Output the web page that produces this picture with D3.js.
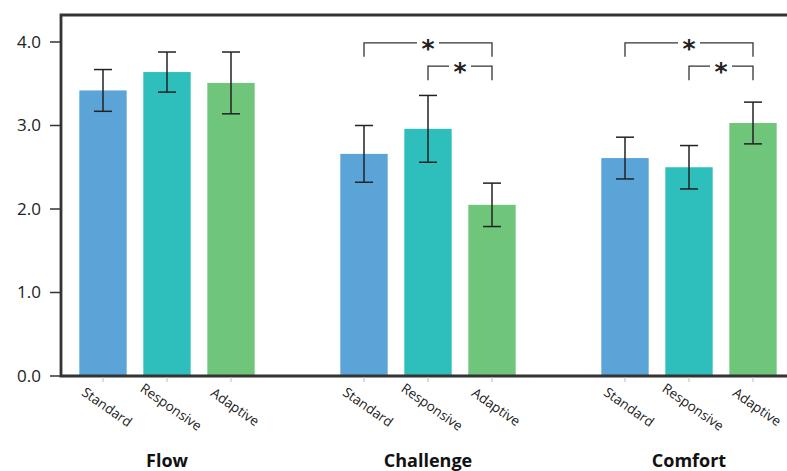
<!DOCTYPE html>
<html>
<head>
<meta charset="utf-8">
<script src="https://cdn.jsdelivr.net/npm/d3@7"></script>
<style>
  body { margin: 0; background: #fff; }
  svg { display: block; }
  .tick-label { font-family: "Open Sans", sans-serif; font-size: 17px; fill: #222; }
  .cond-label { font-family: "Open Sans", sans-serif; font-size: 13.5px; fill: #222; }
  .group-label { font-family: "Open Sans", sans-serif; font-size: 18px; font-weight: bold; fill: #111; }
  .star { font-family: "DejaVu Sans", sans-serif; font-size: 25px; font-weight: bold; fill: #222; }
</style>
</head>
<body>
<div id="chart"></div>
<script>
var width = 787,
    height = 471;

// groups and conditions
var groups = ["Flow", "Challenge", "Comfort"];
var conditions = ["Standard", "Responsive", "Adaptive"];
var colors = ["#5ba4d8", "#2ebfbd", "#6fc57a"];

// mean per group, in condition order
var flowMeans = [3.42, 3.64, 3.51];
var challengeMeans = [2.66, 2.96, 2.05];
var comfortMeans = [2.61, 2.50, 3.03];

// error bar half-widths
var flowErr = [0.25, 0.24, 0.37];
var challengeErr = [0.34, 0.40, 0.26];
var comfortErr = [0.25, 0.26, 0.25];

var yTicks = [0, 1, 2, 3, 4];

// significance brackets: group, from, to, level (0 = upper)
var sigGroups = ["Challenge", "Challenge", "Comfort", "Comfort"];
var sigFrom = ["Standard", "Responsive", "Standard", "Responsive"];
var sigTo = ["Adaptive", "Adaptive", "Adaptive", "Adaptive"];
var sigLevel = [0, 1, 0, 1];

var means = [flowMeans, challengeMeans, comfortMeans],
    errs = [flowErr, challengeErr, comfortErr];

var rows = [];
groups.forEach(function(g, gi) {
  conditions.forEach(function(c, ci) {
    rows.push({group: g, cond: c, value: means[gi][ci], err: errs[gi][ci], color: colors[ci]});
  });
});

var frame = {left: 61, top: 15, bottom: 376, right: width};

var y = d3.scaleLinear()
    .domain([0, 4])
    .range([376, 42]);

var x0 = d3.scalePoint()
    .domain(groups)
    .range([167, 689]);

var x1 = d3.scaleBand()
    .domain(conditions)
    .range([-96, 96])
    .paddingInner(0.26)
    .paddingOuter(0.13);

function cx(g, c) { return x0(g) + x1(c) + x1.bandwidth() / 2; }

var svg = d3.select("#chart").append("svg")
    .attr("width", width)
    .attr("height", height);

// bars
svg.append("g").selectAll("rect")
    .data(rows)
  .enter().append("rect")
    .attr("x", function(d) { return x0(d.group) + x1(d.cond); })
    .attr("y", function(d) { return y(d.value); })
    .attr("width", x1.bandwidth())
    .attr("height", function(d) { return y(0) - y(d.value); })
    .attr("fill", function(d) { return d.color; });

// error bars
var eb = svg.append("g")
    .attr("stroke", "#222")
    .attr("stroke-width", 1.5)
  .selectAll("g")
    .data(rows)
  .enter().append("g");

eb.append("line")
    .attr("x1", function(d) { return cx(d.group, d.cond); })
    .attr("x2", function(d) { return cx(d.group, d.cond); })
    .attr("y1", function(d) { return y(d.value + d.err); })
    .attr("y2", function(d) { return y(d.value - d.err); });

[1, -1].forEach(function(s) {
  eb.append("line")
      .attr("x1", function(d) { return cx(d.group, d.cond) - 9; })
      .attr("x2", function(d) { return cx(d.group, d.cond) + 9; })
      .attr("y1", function(d) { return y(d.value + s * d.err); })
      .attr("y2", function(d) { return y(d.value + s * d.err); });
});

// frame: left axis, top border, bottom axis
svg.append("path")
    .attr("d", "M" + frame.right + "," + frame.top + "H" + frame.left + "V" + frame.bottom + "H" + frame.right)
    .attr("fill", "none")
    .attr("stroke", "#333")
    .attr("stroke-width", 2.8);

// y axis ticks
var yAxis = svg.append("g");
yAxis.selectAll("line")
    .data(yTicks)
  .enter().append("line")
    .attr("x1", 50).attr("x2", frame.left)
    .attr("y1", function(d) { return y(d); })
    .attr("y2", function(d) { return y(d); })
    .attr("stroke", "#333")
    .attr("stroke-width", 1.5);

yAxis.selectAll("text")
    .data(yTicks)
  .enter().append("text")
    .attr("class", "tick-label")
    .attr("x", 41)
    .attr("y", function(d) { return y(d); })
    .attr("dy", "0.35em")
    .attr("text-anchor", "end")
    .text(function(d) { return d3.format(".1f")(d); });

// x ticks + condition labels
svg.append("g").selectAll("line")
    .data(rows)
  .enter().append("line")
    .attr("x1", function(d) { return cx(d.group, d.cond); })
    .attr("x2", function(d) { return cx(d.group, d.cond); })
    .attr("y1", frame.bottom + 1)
    .attr("y2", frame.bottom + 6)
    .attr("stroke", "#bbb")
    .attr("stroke-width", 1);

svg.append("g").selectAll("text")
    .data(rows)
  .enter().append("text")
    .attr("class", "cond-label")
    .attr("text-anchor", "middle")
    .attr("dy", "0.35em")
    .attr("transform", function(d) {
      return "translate(" + (cx(d.group, d.cond) + 4) + "," + 407 + ")rotate(35)";
    })
    .text(function(d) { return d.cond; });

svg.append("g").selectAll("text")
    .data(groups)
  .enter().append("text")
    .attr("class", "group-label")
    .attr("x", function(d) { return x0(d); })
    .attr("y", 467)
    .attr("text-anchor", "middle")
    .text(function(d) { return d; });

// significance brackets
var levelY = [y(3.99), y(3.71)],
    legLen = 14;

sigGroups.forEach(function(g, i) {
  var xa = cx(g, sigFrom[i]),
      xb = cx(g, sigTo[i]),
      ly = levelY[sigLevel[i]],
      xm = (xa + xb) / 2,
      gap = 11;
  var b = svg.append("g")
      .attr("fill", "none")
      .attr("stroke", "#333")
      .attr("stroke-width", 1.3);
  b.append("path")
      .attr("d", "M" + xa + "," + (ly + legLen) + "V" + ly + "H" + (xm - gap));
  b.append("path")
      .attr("d", "M" + (xm + gap) + "," + ly + "H" + xb + "V" + (ly + legLen));
  svg.append("text")
      .attr("class", "star")
      .attr("x", xm)
      .attr("y", ly + 14)
      .attr("text-anchor", "middle")
      .text("*");
});
</script>
</body>
</html>
